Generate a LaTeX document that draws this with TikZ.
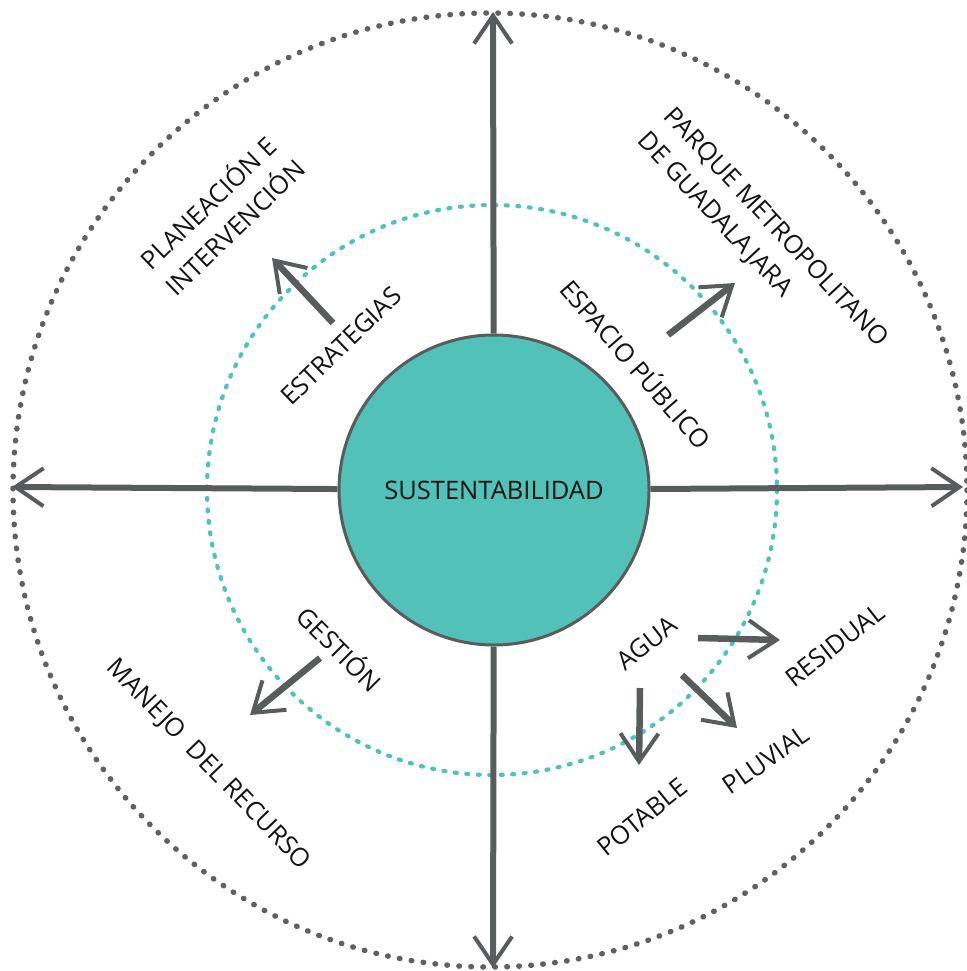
\documentclass[tikz,border=0pt]{standalone}
\usepackage{fontspec}
\setmainfont{Open Sans}
\usetikzlibrary{arrows.meta}
\definecolor{tealfill}{HTML}{52C2B9}
\definecolor{tealdot}{HTML}{4DC4BA}
\definecolor{arrowgrey}{HTML}{595C5C}
\definecolor{dotgrey}{HTML}{606060}
\definecolor{textc}{HTML}{141414}
\begin{document}
\begin{tikzpicture}[x=1pt,y=-1pt,
  lbl/.style={font=\fontsize{25.5}{36}\selectfont, text=textc, inner sep=0pt, align=left},
  axisarrow/.style={draw=arrowgrey, line width=6pt, -{Straight Barb[length=28pt,width=38pt,line width=4pt]}},
  smallarrow/.style={draw=arrowgrey, line width=6.5pt, -{Straight Barb[length=28pt,width=38pt,line width=4pt]}},
  outerring/.style={draw=dotgrey, line width=5.5pt, line cap=round, dash pattern=on 0.5pt off 11.5pt},
  innerring/.style={draw=tealdot, line width=4.2pt, line cap=round, dash pattern=on 2pt off 9.5pt}]
\useasboundingbox (0,0) rectangle (966,971);

% rings
\draw[outerring] (490,490) circle[radius=477];
\draw[innerring] (492,490) circle[radius=285];

% centre
\node[circle, fill=tealfill, draw=arrowgrey, line width=3pt, minimum size=310pt, inner sep=0pt,
      font=\fontsize{25.5}{30}\selectfont, text=textc] (c) at (494,490) {SUSTENTABILIDAD};

% axis ends
\coordinate (axT) at (493,12);
\coordinate (axB) at (493,968);
\coordinate (axL) at (12,487);
\coordinate (axR) at (963,487);
\draw[axisarrow] (c) -- (axT);
\draw[axisarrow] (c) -- (axB);
\draw[axisarrow] (c) -- (axL);
\draw[axisarrow] (c) -- (axR);

% labels
\node[lbl, rotate=44] (plan) at (221,213) {PLANEACIÓN E\\INTERVENCIÓN};
\node[lbl, rotate=44] (estr) at (341,346) {ESTRATEGIAS};
\node[lbl, rotate=-47] (parque) at (762,240) {PARQUE METROPOLITANO\\DE GUADALAJARA};
\node[lbl, rotate=-49] (esp) at (637,363) {ESPACIO PÚBLICO};
\node[lbl, rotate=-45] (gest) at (341,648) {GESTIÓN};
\node[lbl, rotate=-46] (manejo) at (208,765) {MANEJO\ \ DEL RECURSO};
\node[lbl, rotate=38] (agua) at (647,643) {AGUA};
\node[lbl, rotate=38] (resid) at (835,645) {RESIDUAL};
\node[lbl, rotate=35] (pluv) at (766,760) {PLUVIAL};
\node[lbl, rotate=39] (potab) at (642,817) {POTABLE};

% small arrows
\coordinate (s1) at (333,323); \coordinate (t1) at (272,258);
\coordinate (s2) at (668,335); \coordinate (t2) at (735,283);
\coordinate (s3) at (320,658); \coordinate (t3) at (250,715);
\coordinate (s4) at (698,638); \coordinate (t4) at (780,640);
\coordinate (s5) at (682,675); \coordinate (t5) at (737,728);
\coordinate (s6) at (640,688); \coordinate (t6) at (639,765);
\draw[smallarrow] (s1) -- (t1);
\draw[smallarrow] (s2) -- (t2);
\draw[smallarrow] (s3) -- (t3);
\draw[smallarrow] (s4) -- (t4);
\draw[smallarrow] (s5) -- (t5);
\draw[smallarrow] (s6) -- (t6);
\end{tikzpicture}
\end{document}
